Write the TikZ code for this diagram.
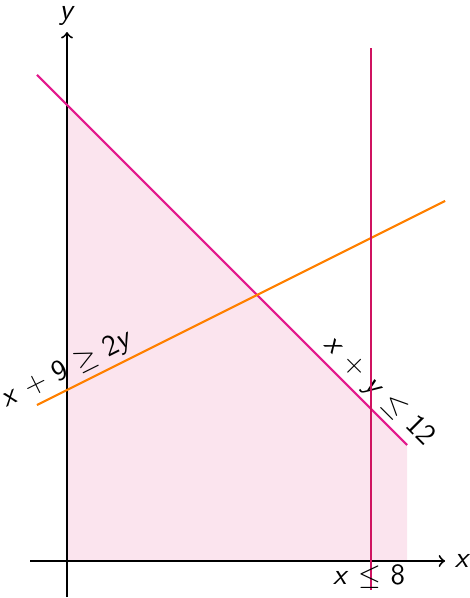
\documentclass[tikz,border=0pt]{standalone}
\usepackage{fontspec}
\begin{document}
\begin{tikzpicture}[
        x=0.5cm, y=0.5cm,
        font=\fontsize{11}{13}\selectfont\sffamily,
        axis/.style={->, line width=0.7pt, black},
        bound/.style={line width=0.8pt},
        label/.style={sloped, above, inner sep=1.5pt, text=black}
    ]
        \definecolor{sumline}{HTML}{E3198C}
        \definecolor{ratioline}{HTML}{FF8000}
        \definecolor{capline}{HTML}{CF1360}
        \definecolor{region}{HTML}{FBE4EE}
        \useasboundingbox (-1.763,-0.974) rectangle (10.579,14.763);

        \fill[region] (0,0) -- (0,12) -- (8.95,3.05) -- (8.95,0) -- cycle;

        \draw[axis] (-0.97,0) -- (9.95,0) node[right] (xlabel) {\textit{x}};
        \draw[axis] (0,-0.95) -- (0,13.92) node[above, inner sep=2pt] (ylabel) {\textit{y}};

        \draw[bound, sumline] (-0.79,12.79) -- (8.95,3.05)
            node[label, pos=0.89] (sumlabel) {\textit{x} + \textit{y} $\leq$ 12};
        \draw[bound, ratioline] (-0.79,4.105) -- (9.95,9.475)
            node[label, pos=0.095] (ratiolabel) {\textit{x} + 9 $\geq$ 2\textit{y}};
        \draw[bound, capline] (8,-0.76) -- (8,13.5);
        \node[below, inner sep=1pt] (caplabel) at (7.95,0)
            {\textit{x} $\leq$ 8};
    \end{tikzpicture}
\end{document}
